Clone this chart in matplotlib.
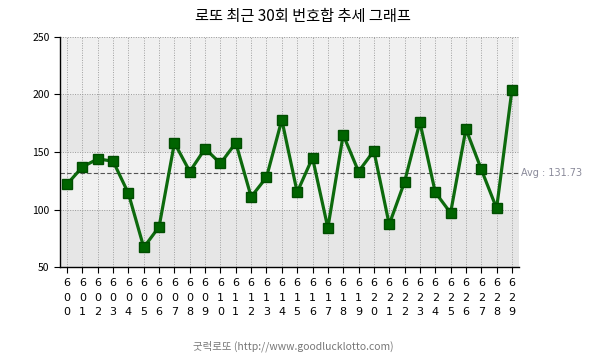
import numpy as np
import matplotlib.pyplot as plt

plt.rcParams['font.family'] = ['Noto Sans CJK KR', 'DejaVu Sans']

# Data
draws = list(range(600, 630))
sums = [122, 137, 144, 142, 114, 67, 85, 158, 133, 153,
        140, 158, 111, 128, 178, 115, 145, 84, 165, 133,
        151, 87, 124, 176, 115, 97, 170, 135, 101, 204]
avg = 131.73
title = '로또 최근 30회 번호합 추세 그래프'
footer = '굿럭로또 (http://www.goodlucklotto.com)'

fig = plt.figure(figsize=(6.05, 3.59), dpi=100)
ax = fig.add_axes([60 / 605, 92 / 359, 459 / 605, 230 / 359])

x = np.arange(len(draws))
ax.set_xlim(-0.46, len(draws) - 1 + 0.46)
ax.set_ylim(50, 250)

# alternating bands
for lo, hi, c in [(50, 100, '#e6e6e6'), (100, 150, '#f0f0f0'),
                  (150, 200, '#e6e6e6'), (200, 250, '#f0f0f0')]:
    ax.axhspan(lo, hi, color=c, zorder=0, lw=0)

for xi in x:
    ax.axvline(xi, color='#a0a0a0', ls=(0, (1, 1.5)), lw=0.7, zorder=1)
ax.axvline(len(draws) - 1 + 0.46, color='#a0a0a0', ls=(0, (1, 1.5)), lw=0.7, zorder=1)
for yv in [100, 150, 200, 250]:
    ax.axhline(yv, color='#999999', ls=(0, (1, 1.5)), lw=0.7, zorder=1)

ax.axhline(avg, color='#555555', ls=(0, (4, 2)), lw=0.8, zorder=2)
ax.text(len(draws) - 1 + 0.6, avg, f'Avg : {avg:.2f}', color='#8a8a9a',
        fontsize=7, va='center', ha='left', family=['DejaVu Sans'])

ax.plot(x, sums, color='#0d6a0d', lw=2.3, marker='s', markersize=7,
        markerfacecolor='#006400', markeredgecolor='#004d00', zorder=3)

ax.set_yticks([50, 100, 150, 200, 250])
ax.set_yticklabels(['50', '100', '150', '200', '250'], fontsize=7.5)
ax.set_xticks(x)
ax.set_xticklabels(['\n'.join(str(d)) for d in draws], fontsize=8,
                   linespacing=1.55, family=['DejaVu Sans'])
ax.tick_params(axis='both', length=4, width=0.8, color='black')
ax.tick_params(axis='x', pad=4)

for s in ['top', 'right']:
    ax.spines[s].set_visible(False)
ax.spines['left'].set_linewidth(1)
ax.spines['bottom'].set_linewidth(1)

fig.text(0.5, 1 - 17 / 359, title, ha='center', va='center', fontsize=11)
fig.text(293 / 605, 1 - 346 / 359, footer, ha='center', va='center',
         fontsize=7.5, color='#777777')

fig.savefig('out.png', dpi=100)
